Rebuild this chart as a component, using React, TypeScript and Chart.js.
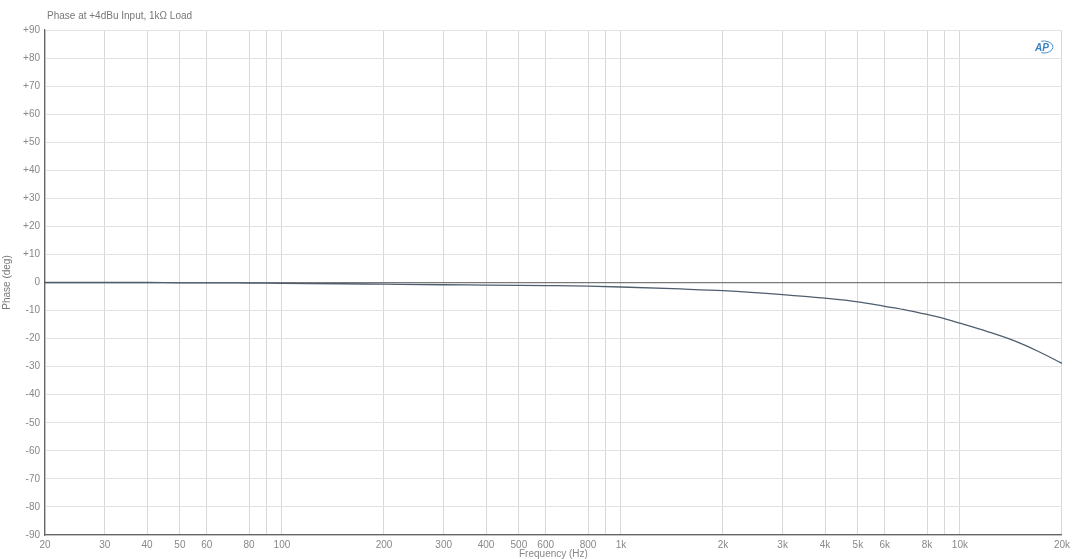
import { useEffect, useRef } from 'react'
import { Chart, registerables, type ChartConfiguration, type Plugin } from 'chart.js'

Chart.register(...registerables)

// frequency points (Hz) and phase readings (deg)
const freqs = [20, 30, 40, 50, 60, 80, 100, 150, 200, 300, 400, 500, 600, 800, 1000, 1500, 2000, 3000, 4000, 5000, 6000, 7000, 8000, 9000, 10000, 12000, 14500, 17000, 20000]
const phase = [0, 0, 0, -0.1, -0.1, -0.2, -0.3, -0.45, -0.6, -0.8, -0.9, -1.0, -1.1, -1.3, -1.6, -2.3, -2.9, -4.3, -5.6, -6.9, -8.5, -9.9, -11.4, -12.9, -14.5, -17.4, -20.8, -24.5, -28.8]

const xTicks = [20, 30, 40, 50, 60, 80, 90, 100, 200, 300, 400, 500, 600, 800, 900, 1000, 2000, 3000, 4000, 5000, 6000, 8000, 9000, 10000, 20000]
const xHidden = [90, 900, 9000]

const FONT = '"Liberation Sans", Arial, sans-serif'

const fmtFreq = (v: number) => (xHidden.includes(v) ? '' : v >= 1000 ? v / 1000 + 'k' : String(v))

const decor: Plugin = {
  id: 'decor',
  afterDraw(chart) {
    const { ctx, chartArea } = chart
    ctx.save()
    ctx.fillStyle = '#777'
    ctx.font = `10px ${FONT}`
    ctx.textBaseline = 'middle'
    ctx.textAlign = 'left'
    ctx.fillText('Phase at +4dBu Input, 1kΩ Load', 47, 16)
    // AP logo
    const lx = chartArea.right - 20
    const ly = 47
    ctx.strokeStyle = '#4a8fd0'
    ctx.lineWidth = 1
    ctx.beginPath()
    ctx.ellipse(lx + 2, ly, 9, 6, 0, -Math.PI * 0.6, Math.PI * 0.6)
    ctx.stroke()
    ctx.fillStyle = '#3a7fc0'
    ctx.font = `italic bold 10px ${FONT}`
    ctx.textAlign = 'center'
    ctx.fillText('AP', lx, ly + 1)
    ctx.restore()
  },
}

export default function App() {
  const canvasRef = useRef<HTMLCanvasElement>(null)
  const chartRef = useRef<Chart | null>(null)

  useEffect(() => {
    if (!canvasRef.current) return
    if (chartRef.current) chartRef.current.destroy()
    const ctx = canvasRef.current.getContext('2d')
    if (!ctx) return

    const config: ChartConfiguration<'scatter'> = {
      type: 'scatter',
      data: {
        datasets: [
          {
            data: freqs.map((f, i) => ({ x: f, y: phase[i] })),
            showLine: true,
            borderColor: '#4f5e6e',
            borderWidth: 1.3,
            pointRadius: 0,
            cubicInterpolationMode: 'monotone',
          },
        ],
      },
      options: {
        animation: false,
        responsive: true,
        maintainAspectRatio: false,
        layout: { padding: { left: 0, right: 12, top: 30, bottom: 0 } },
        plugins: { legend: { display: false }, tooltip: { enabled: false } },
        scales: {
          x: {
            type: 'logarithmic',
            min: 20,
            max: 20000,
            afterBuildTicks: (scale) => {
              scale.ticks = xTicks.map((v) => ({ value: v }))
            },
            afterFit: (scale) => {
              scale.height = 24
            },
            ticks: {
              autoSkip: false,
              maxRotation: 0,
              padding: 4,
              color: '#888',
              font: { size: 10, family: FONT },
              callback: (v) => fmtFreq(Number(v)),
            },
            grid: { color: '#d8d8d8', drawTicks: false },
            border: { color: '#666', width: 1.2 },
            title: {
              display: true,
              text: 'Frequency (Hz)',
              color: '#888',
              font: { size: 10, family: FONT },
              padding: { top: 0, bottom: -1 },
            },
          },
          y: {
            min: -90,
            max: 90,
            afterFit: (scale) => {
              scale.width = 45
            },
            ticks: {
              stepSize: 10,
              padding: 5,
              color: '#888',
              font: { size: 10, family: FONT },
              callback: (v) => (Number(v) > 0 ? '+' + v : String(v)),
            },
            grid: {
              drawTicks: false,
              color: (c) => (c.tick && c.tick.value === 0 ? '#7a7a7a' : '#e3e3e3'),
              lineWidth: (c) => (c.tick && c.tick.value === 0 ? 1.3 : 1),
            },
            border: { color: '#666', width: 1.2 },
            title: {
              display: true,
              text: 'Phase (deg)',
              color: '#777',
              font: { size: 10, family: FONT },
              padding: { top: 1, bottom: 0 },
            },
          },
        },
      },
      plugins: [decor],
    }

    chartRef.current = new Chart(ctx, config)
    return () => {
      if (chartRef.current) {
        chartRef.current.destroy()
        chartRef.current = null
      }
    }
  }, [])

  return (
    <div style={{ position: 'absolute', left: 0, top: 0, width: 1074, height: 559, background: '#fff' }}>
      <canvas ref={canvasRef} />
    </div>
  )
}
